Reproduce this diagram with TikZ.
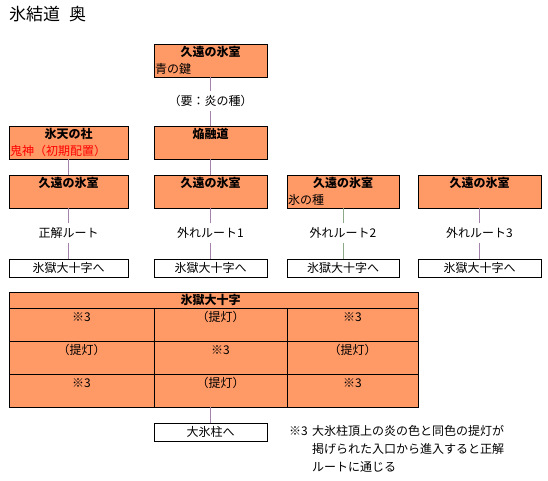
\documentclass[tikz,border=0pt]{standalone}
\usepackage{fontspec}
\setmainfont{Noto Sans CJK JP}
\usepackage{xcolor}
\usetikzlibrary{positioning}
\definecolor{roomfill}{HTML}{FF9966}
\definecolor{linkpurple}{HTML}{A482AC}
\definecolor{linkgreen}{HTML}{8DAA88}
\definecolor{bossred}{HTML}{FF0000}

\begin{document}
\begin{tikzpicture}[x=1pt, y=-1pt,
  room/.style={rectangle, draw=black, line width=1pt, fill=roomfill,
    anchor=north west, minimum height=33pt, inner sep=0pt, outer sep=0pt},
  roomname/.style={font=\bfseries\fontsize{12}{14}\selectfont, inner sep=0pt},
  roomnote/.style={font=\fontsize{12}{14}\selectfont, inner sep=0pt, anchor=west},
  exitbox/.style={rectangle, draw=black, line width=1pt, fill=white,
    anchor=north west, minimum height=18pt, inner sep=0pt, outer sep=0pt,
    font=\fontsize{12}{14}\selectfont},
  cell/.style={rectangle, draw=black, line width=1pt, fill=roomfill,
    anchor=north west, minimum height=33pt, inner sep=0pt, outer sep=0pt},
  cellnote/.style={font=\fontsize{12}{14}\selectfont, inner sep=0pt},
  route/.style={font=\fontsize{12}{14}\selectfont, inner sep=4pt},
  link/.style={draw=linkpurple, line width=1pt}
]
\useasboundingbox (0,0) rectangle (548,480);

%─── TITLE ───────────────────────────────────────────────────────────────────
\node[anchor=west, inner sep=0pt, font=\fontsize{17}{20}\selectfont]
  (TTL) at (9,14) {氷結道\hspace{9pt}奥};

%─── ROW 1 ───────────────────────────────────────────────────────────────────
\node[room, minimum width=113pt] (R1) at (154,44) {};
\node[roomname] (R1t) at ([yshift=-8pt]R1.north) {久遠の氷室};
\node[roomnote] (R1n) at ([xshift=1pt,yshift=-25pt]R1.north west) {青の鍵};

\node[route] (K1) at (210.5,101) {（要：炎の種）};

%─── ROW 2 ───────────────────────────────────────────────────────────────────
\node[room, minimum width=119pt] (S1) at (9,126) {};
\node[roomname] (S1t) at ([yshift=-8pt]S1.north) {氷天の社};
\node[roomnote, text=bossred] (S1n) at ([xshift=1pt,yshift=-25pt]S1.north west)
  {鬼神（初期配置）};

\node[room, minimum width=113pt] (S2) at (154,126) {};
\node[roomname] (S2t) at ([yshift=-8pt]S2.north) {焔融道};

%─── ROW 3 ───────────────────────────────────────────────────────────────────
\node[room, minimum width=119pt] (H1) at (9,175) {};
\node[roomname] (H1t) at ([yshift=-8pt]H1.north) {久遠の氷室};

\node[room, minimum width=113pt] (H2) at (154,175) {};
\node[roomname] (H2t) at ([yshift=-8pt]H2.north) {久遠の氷室};

\node[room, minimum width=112pt] (H3) at (287,175) {};
\node[roomname] (H3t) at ([yshift=-8pt]H3.north) {久遠の氷室};
\node[roomnote] (H3n) at ([xshift=1pt,yshift=-25pt]H3.north west) {氷の種};

\node[room, minimum width=123pt] (H4) at (418,175) {};
\node[roomname] (H4t) at ([yshift=-8pt]H4.north) {久遠の氷室};

% routes
\node[route] (L1) at (H1.south |- 0,233) {正解ルート};
\node[route] (L2) at (H2.south |- 0,233) {外れルート1};
\node[route] (L3) at (H3.south |- 0,233) {外れルート2};
\node[route] (L4) at (H4.south |- 0,233) {外れルート3};

% exits
\node[exitbox, minimum width=119pt] (E1) at (9,259)   {氷獄大十字へ};
\node[exitbox, minimum width=113pt] (E2) at (154,259) {氷獄大十字へ};
\node[exitbox, minimum width=112pt] (E3) at (287,259) {氷獄大十字へ};
\node[exitbox, minimum width=123pt] (E4) at (418,259) {氷獄大十字へ};

%─── 氷獄大十字 ──────────────────────────────────────────────────────────────
\node[cell, minimum width=409pt, minimum height=16pt] (TH) at (9,292) {};
\node[roomname] (THt) at ([xshift=-3pt]TH.center) {氷獄大十字};

\node[cell, minimum width=145pt] (C11) at (9,308)   {};
\node[cell, minimum width=133pt] (C12) at (154,308) {};
\node[cell, minimum width=131pt] (C13) at (287,308) {};
\node[cell, minimum width=145pt] (C21) at (9,341)   {};
\node[cell, minimum width=133pt] (C22) at (154,341) {};
\node[cell, minimum width=131pt] (C23) at (287,341) {};
\node[cell, minimum width=145pt] (C31) at (9,374)   {};
\node[cell, minimum width=133pt] (C32) at (154,374) {};
\node[cell, minimum width=131pt] (C33) at (287,374) {};

\node[cellnote] (C11t) at ([yshift=-9pt]C11.north) {※3};
\node[cellnote] (C12t) at ([yshift=-9pt]C12.north) {（提灯）};
\node[cellnote] (C13t) at ([yshift=-9pt]C13.north) {※3};
\node[cellnote] (C21t) at ([yshift=-9pt]C21.north) {（提灯）};
\node[cellnote] (C22t) at ([yshift=-9pt]C22.north) {※3};
\node[cellnote] (C23t) at ([yshift=-9pt]C23.north) {（提灯）};
\node[cellnote] (C31t) at ([yshift=-9pt]C31.north) {※3};
\node[cellnote] (C32t) at ([yshift=-9pt]C32.north) {（提灯）};
\node[cellnote] (C33t) at ([yshift=-9pt]C33.north) {※3};

\node[exitbox, minimum width=113pt] (E5) at (154,423) {大氷柱へ};

%─── NOTE ────────────────────────────────────────────────────────────────────
\node[cellnote, anchor=west] (N3) at (289,431) {※3};
\node[cellnote, anchor=north west, align=left, font=\fontsize{12}{18}\selectfont]
  (N3t) at (312,425) {大氷柱頂上の炎の色と同色の提灯が\\
  掲げられた入口から進入すると正解\\ルートに通じる};

%─── LINKS ───────────────────────────────────────────────────────────────────
\draw[link] (R1.south) -- (K1.north);
\draw[link] (K1.south) -- (S2.north);
\draw[link] (S1.south) -- (H1.north);
\draw[link] (S2.south) -- (H2.north);

\draw[link] (H1.south) -- (L1.north);
\draw[link] (L1.south) -- (E1.north);
\draw[link] (H2.south) -- (L2.north);
\draw[link] (L2.south) -- (E2.north);
\draw[link, draw=linkgreen] (H3.south) -- (L3.north);
\draw[link, draw=linkgreen] (L3.south) -- (E3.north);
\draw[link] (H4.south) -- (L4.north);
\draw[link] (L4.south) -- (E4.north);

\draw[link] (C32.south -| E5.north) -- (E5.north);

\end{tikzpicture}
\end{document}
